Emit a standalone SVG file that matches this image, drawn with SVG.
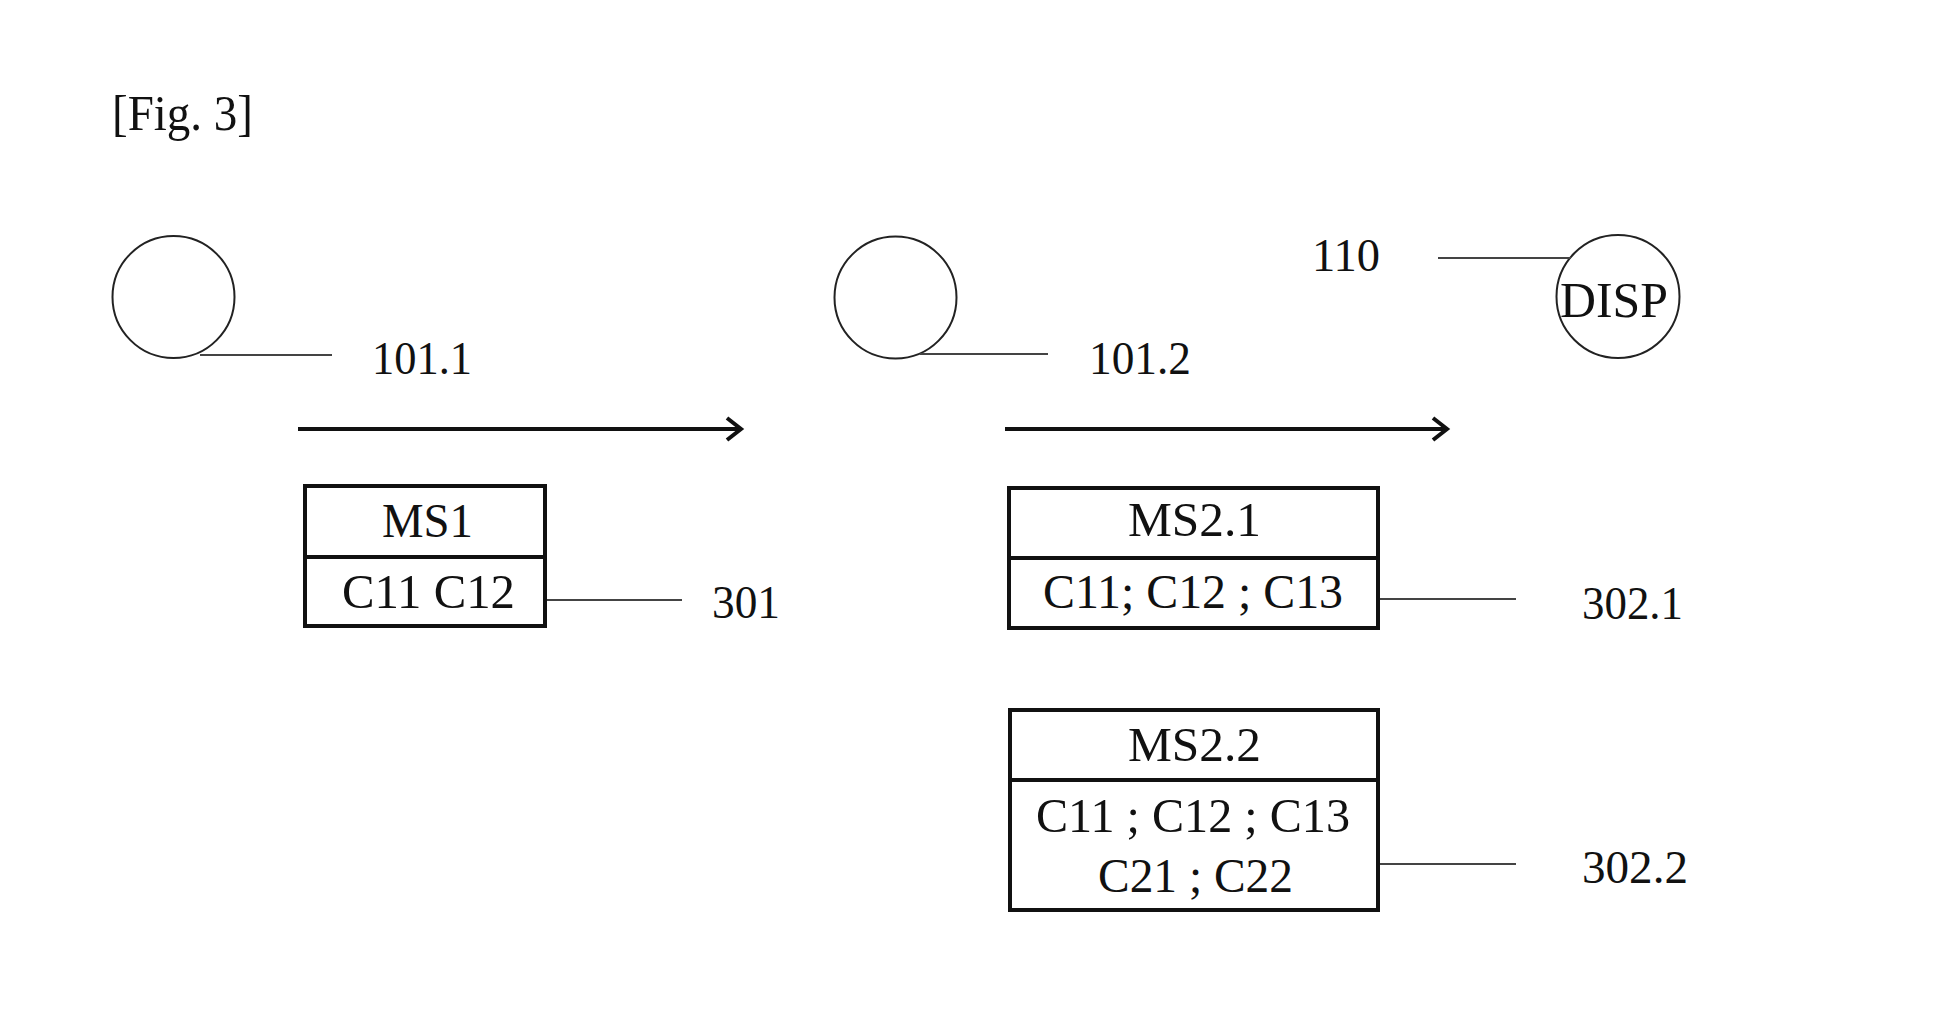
<svg xmlns="http://www.w3.org/2000/svg" width="1940" height="1026" viewBox="0 0 1940 1026">
<style>
text{font-family:"Liberation Serif","Times New Roman",serif;fill:#111;font-size:46px}
.c{fill:none;stroke:#222;stroke-width:2}
.box{fill:none;stroke:#111;stroke-width:4}
.lead{stroke:#444;stroke-width:2;fill:none}
.arr{stroke:#111;stroke-width:4;fill:none}
</style>
<rect width="1940" height="1026" fill="#fff"/>
<text x="112" y="130" textLength="141" lengthAdjust="spacingAndGlyphs" style="font-size:50px">[Fig. 3]</text>

<g id="node-101-1">
<circle class="c" cx="173.5" cy="297" r="61"/>
<text x="372" y="374" textLength="100" lengthAdjust="spacingAndGlyphs">101.1</text>
</g>
<g id="node-101-2">
<circle class="c" cx="895.5" cy="297.5" r="61"/>
<text x="1089" y="374" textLength="102" lengthAdjust="spacingAndGlyphs">101.2</text>
</g>
<g id="node-disp">
<circle class="c" cx="1618" cy="296.5" r="61.5"/>
<text x="1560" y="317" textLength="108" lengthAdjust="spacingAndGlyphs" style="font-size:50px">DISP</text>
<text x="1312" y="271" textLength="68" lengthAdjust="spacingAndGlyphs">110</text>
</g>
<g id="node-301">
<rect class="box" x="305" y="486" width="240" height="140"/>
<line class="box" x1="305" y1="557" x2="545" y2="557"/>
<text x="382" y="537" textLength="91" lengthAdjust="spacingAndGlyphs" style="font-size:48px">MS1</text>
<text x="342" y="608" textLength="173" lengthAdjust="spacingAndGlyphs" style="font-size:48px">C11 C12</text>
<text x="712" y="618" textLength="68" lengthAdjust="spacingAndGlyphs">301</text>
</g>
<g id="node-302-1">
<rect class="box" x="1009" y="488" width="369" height="140"/>
<line class="box" x1="1009" y1="558" x2="1378" y2="558"/>
<text x="1128" y="536" textLength="133" lengthAdjust="spacingAndGlyphs" style="font-size:49px">MS2.1</text>
<text x="1043" y="608" textLength="300" lengthAdjust="spacingAndGlyphs" style="font-size:48px">C11; C12 ; C13</text>
<text x="1582" y="619" textLength="101" lengthAdjust="spacingAndGlyphs">302.1</text>
</g>
<g id="node-302-2">
<rect class="box" x="1010" y="710" width="368" height="200"/>
<line class="box" x1="1010" y1="780" x2="1378" y2="780"/>
<text x="1128" y="761" textLength="133" lengthAdjust="spacingAndGlyphs" style="font-size:49px">MS2.2</text>
<text x="1036" y="832" textLength="314" lengthAdjust="spacingAndGlyphs" style="font-size:48px">C11 ; C12 ; C13</text>
<text x="1098" y="892" textLength="195" lengthAdjust="spacingAndGlyphs" style="font-size:48px">C21 ; C22</text>
<text x="1582" y="883" textLength="106" lengthAdjust="spacingAndGlyphs">302.2</text>
</g>

<g id="connectors">
<line class="lead" x1="200" y1="355" x2="332" y2="355"/>
<line class="lead" x1="920" y1="354" x2="1048" y2="354"/>
<line class="lead" x1="1438" y1="258" x2="1571" y2="258"/>
<line class="lead" x1="547" y1="600" x2="682" y2="600"/>
<line class="lead" x1="1380" y1="599" x2="1516" y2="599"/>
<line class="lead" x1="1380" y1="864" x2="1516" y2="864"/>
<line class="arr" x1="298" y1="429" x2="740" y2="429"/>
<polyline class="arr" points="727,418 741,429 727,440"/>
<line class="arr" x1="1005" y1="429" x2="1446" y2="429"/>
<polyline class="arr" points="1433,418 1447,429 1433,440"/>
</g>
</svg>
